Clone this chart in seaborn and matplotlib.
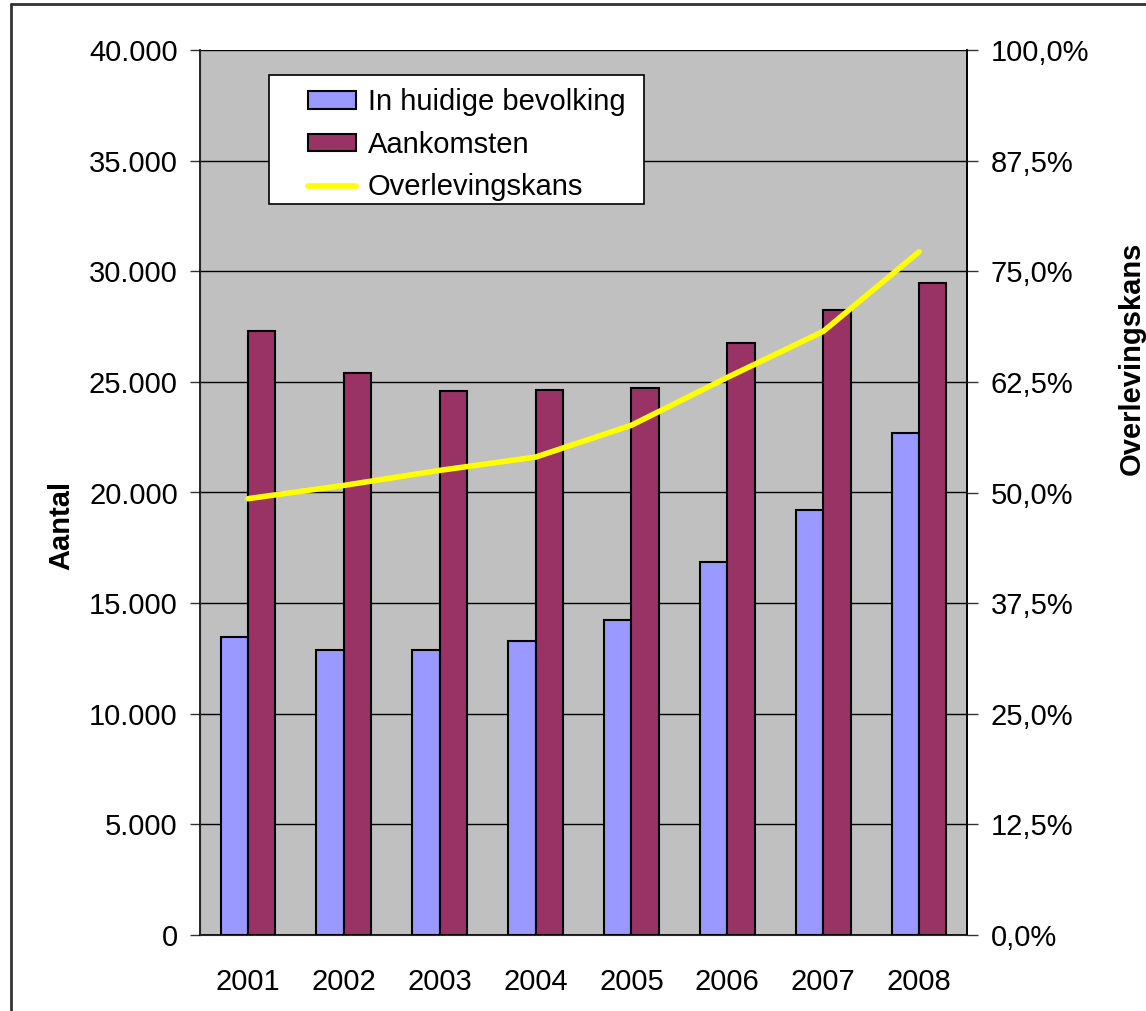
import numpy as np
import pandas as pd
import seaborn as sns
import matplotlib.pyplot as plt
from matplotlib.ticker import FuncFormatter, FixedLocator
from matplotlib.lines import Line2D
from matplotlib.patches import Patch, Rectangle

# data
years = ['2001', '2002', '2003', '2004', '2005', '2006', '2007', '2008']
huidige_bevolking = [13450, 12900, 12900, 13300, 14250, 16850, 19200, 22700]
aankomsten = [27300, 25400, 24600, 24650, 24720, 26770, 28250, 29480]
overlevingskans = [49.3, 50.8, 52.5, 54.0, 57.6, 63.0, 68.2, 77.2]

series_names = ['In huidige bevolking', 'Aankomsten']
colors = ['#9999FF', '#993366']

df = pd.DataFrame({
    'jaar': years * 2,
    'aantal': huidige_bevolking + aankomsten,
    'reeks': [series_names[0]] * len(years) + [series_names[1]] * len(years),
})

sns.set_style('white')
plt.rcParams['font.family'] = ['Liberation Sans', 'DejaVu Sans']
plt.rcParams['text.color'] = 'black'
plt.rcParams['xtick.color'] = 'black'
plt.rcParams['ytick.color'] = 'black'
plt.rcParams['axes.labelcolor'] = 'black'

fs = 21

fig = plt.figure(figsize=(11.46, 10.11), dpi=100)
ax = fig.add_axes([200 / 1146, 1 - 935 / 1011, 767 / 1146, 885 / 1011])
ax.set_facecolor('#C0C0C0')

sns.barplot(data=df, x='jaar', y='aantal', hue='reeks', palette=colors,
            saturation=1, width=0.572, edgecolor='black', linewidth=1.5, ax=ax,
            legend=False, zorder=3)

ax.set_ylim(0, 40000)
ax.set_xlim(-0.5, len(years) - 0.5)
ax.set_yticks(np.arange(0, 40001, 5000))
ax.yaxis.set_major_formatter(FuncFormatter(lambda v, p: f"{int(v):,}".replace(',', '.')))
ax.grid(axis='y', color='black', linewidth=1.0, zorder=1)
ax.set_axisbelow(True)

# category boundary ticks as minor ticks
ax.xaxis.set_minor_locator(FixedLocator(np.arange(-0.5, len(years), 1.0)))
ax.tick_params(axis='x', which='major', length=0, pad=24, labelsize=fs)
ax.tick_params(axis='x', which='minor', length=9, width=1, color='#333333', direction='out')
ax.tick_params(axis='y', length=7, width=1, color='#333333', direction='out', pad=9,
               labelsize=fs, left=True)

ax.spines['top'].set_visible(False)
for side in ['left', 'bottom', 'right']:
    ax.spines[side].set_color('black')
    ax.spines[side].set_linewidth(1.2)

ax.set_xlabel('')
ax.set_ylabel('Aantal', fontsize=fs, fontweight='bold')
ax.yaxis.set_label_coords(-0.163, 0.463)

ax2 = ax.twinx()
sns.lineplot(x=np.arange(len(years)), y=overlevingskans, color='#FFFF00',
             linewidth=4, ax=ax2, zorder=4)
ax2.set_ylim(0, 100)
ax2.set_yticks(np.arange(0, 100.1, 12.5))
ax2.yaxis.set_major_formatter(FuncFormatter(lambda v, p: f"{v:.1f}%".replace('.', ',')))
ax2.tick_params(axis='y', length=8, width=1, color='#333333', direction='out', pad=9,
                labelsize=fs, right=True)
ax2.spines['top'].set_visible(False)
ax2.spines['right'].set_color('black')
ax2.spines['right'].set_linewidth(1.2)
ax2.set_ylabel('Overlevingskans', fontsize=fs, fontweight='bold', rotation=90)
ax2.yaxis.set_label_coords(1.196, 0.652)

# legend: white box drawn separately (Excel style has a wide left margin)
box = Rectangle((0.090, 0.826), 0.489, 0.146, transform=ax2.transAxes,
                facecolor='white', edgecolor='black', linewidth=1.2, zorder=9)
ax2.add_patch(box)

handles = [
    Patch(facecolor=colors[0], edgecolor='black', linewidth=1.5),
    Patch(facecolor=colors[1], edgecolor='black', linewidth=1.5),
    Line2D([0], [0], color='#FFFF00', linewidth=4),
]
leg = ax2.legend(handles, series_names + ['Overlevingskans'], loc='upper left',
                 bbox_to_anchor=(0.141, 0.957), fontsize=fs, frameon=False,
                 handlelength=1.65, handleheight=0.55, labelspacing=0.5,
                 borderpad=0, handletextpad=0.4, borderaxespad=0)
leg.set_zorder(10)

# figure border (top and left)
fig.add_artist(Line2D([11 / 1146, 1], [1 - 4 / 1011, 1 - 4 / 1011], color='#333333', linewidth=2))
fig.add_artist(Line2D([11 / 1146, 11 / 1146], [0, 1 - 4 / 1011], color='#333333', linewidth=2))

fig.savefig('out.png', dpi=100)
